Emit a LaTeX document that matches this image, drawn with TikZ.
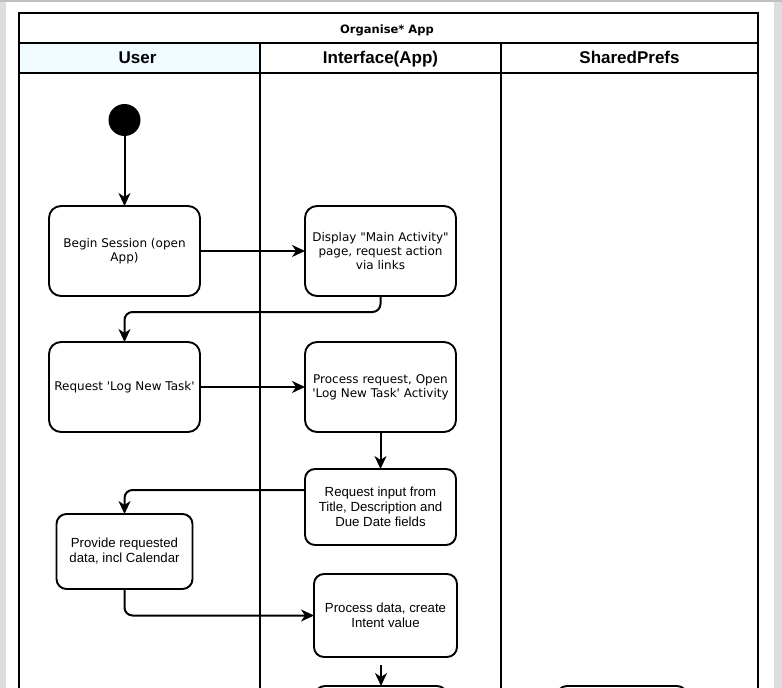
\documentclass[tikz,border=0pt]{standalone}
\usepackage{fontspec}
\setmainfont{DejaVu Sans}
\newfontfamily\helv{Liberation Sans}
\usetikzlibrary{arrows.meta,positioning}
\definecolor{userfill}{RGB}{240,252,255}
\definecolor{pagegrey}{RGB}{221,221,221}
\definecolor{edgegrey}{RGB}{192,192,192}
\tikzstyle{act} = [rectangle, draw, line width=1.9pt, rounded corners=12pt,
    minimum width=151pt, minimum height=90pt, align=center, inner sep=2pt,
    outer sep=0pt, font=\fontsize{12}{14}\selectfont]
\tikzstyle{actb} = [act, rounded corners=10pt, font=\helv\fontsize{13.2}{15}\selectfont]
\tikzstyle{flow} = [-{Stealth[length=13pt,width=12pt,inset=4pt]}, line width=2pt, rounded corners=8pt]
\tikzstyle{lane} = [line width=1.9pt]
\tikzstyle{lanehead} = [anchor=base, font=\helv\bfseries\fontsize{17}{20}\selectfont]
\tikzstyle{pooltitle} = [anchor=base, font=\bfseries\fontsize{11.5}{14}\selectfont]
\newcommand{\sq}{\textquotesingle}

\begin{document}
\begin{tikzpicture}[x=1pt,y=-1pt]
  \useasboundingbox (0,0) rectangle (782,688);
  \fill[pagegrey] (0,0) rectangle (782,688);
  \fill[white] (6,2) rectangle (774,688);
  \fill[edgegrey] (0,0) rectangle (782,2);

  % pool and lanes
  \fill[userfill] (19,43) rectangle (260,73);
  \draw[lane] (19,13) rectangle (758,720);
  \draw[lane] (19,43) -- (758,43);
  \draw[lane] (19,73) -- (758,73);
  \draw[lane] (260,43) -- (260,720);
  \draw[lane] (501,43) -- (501,720);
  \node[pooltitle] (pool) at (387,33.3) {Organise* App};
  \node[lanehead] (userhd) at (137.5,63.5) {User};
  \node[lanehead] (apphd) at (380.5,63.5) {Interface(App)};
  \node[lanehead] (prefshd) at (629.5,63.5) {SharedPrefs};

  % activities
  \node[circle, fill=black, minimum size=32pt, inner sep=0pt, outer sep=0pt] (start) at (124.5,120) {};
  \node[act] (begin) [below=70pt of start] {Begin Session (open\\App)};
  \node[act] (display) [right=105pt of begin] {Display \textquotedbl Main Activity\textquotedbl\\page, request action\\via links};
  \node[act] (request) [below=46pt of begin] {Request \sq Log New Task\sq};
  \node[act] (procreq) [right=105pt of request] {Process request, Open\\\sq Log New Task\sq{} Activity};
  \node[actb, minimum height=76pt] (reqinput) [below=37pt of procreq]
    {Request input from\\Title, Description and\\Due Date fields};
  \node[actb, minimum width=136pt, minimum height=75pt] (provide) [below=82pt of request]
    {Provide requested\\data, incl Calendar};
  \node[actb, minimum width=143pt, minimum height=83pt] (procdata) [below=29pt of reqinput, xshift=5pt]
    {Process data, create\\Intent value};
  \node[actb, minimum width=132pt, minimum height=60pt] (nextact) [below=29pt of procdata, xshift=-4.5pt] {};
  \node[actb, minimum width=130pt, minimum height=60pt] (prefsact) [right=110pt of nextact] {};

  % control flow
  \draw[flow] (start) -- (begin);
  \draw[flow] (begin) -- (display);
  \draw[flow] (display.south) -- ++(0,16) -| (request.north);
  \draw[flow] (request) -- (procreq);
  \draw[flow] (procreq) -- (reqinput);
  \draw[flow] ([yshift=17pt]reqinput.west) -| (provide.north);
  \draw[flow] (provide.south) |- (procdata.west);
  \draw[flow, shorten <=8pt] (nextact.north |- procdata.south) -- (nextact.north);
\end{tikzpicture}
\end{document}
